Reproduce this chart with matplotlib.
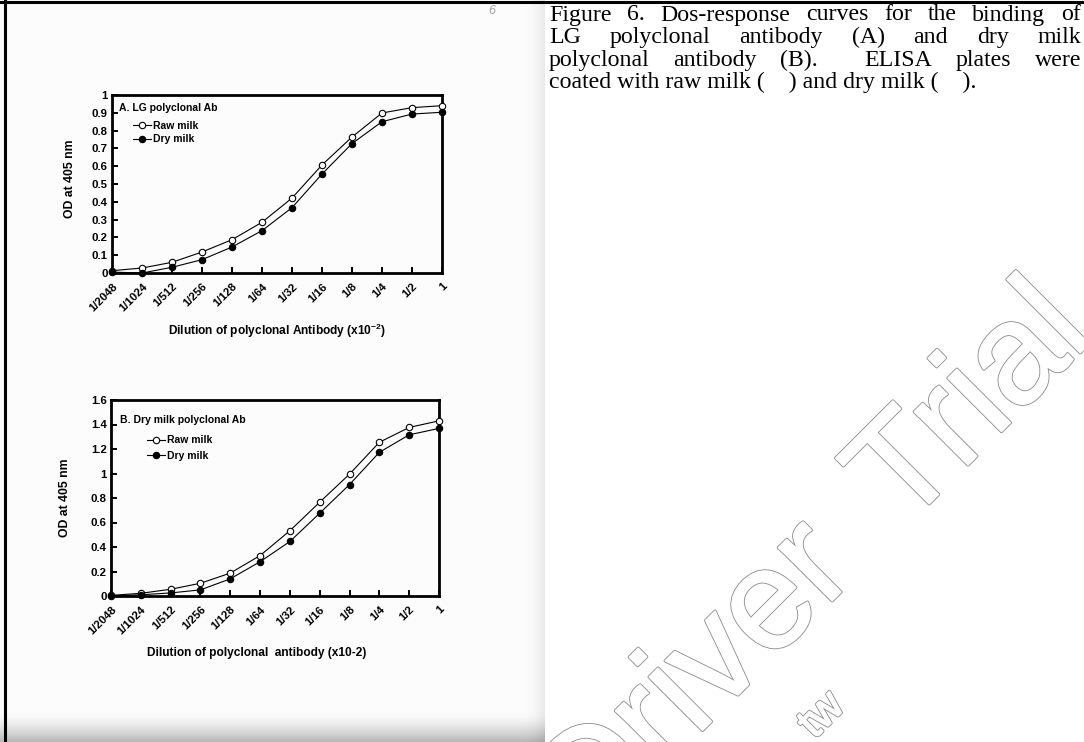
import re
import numpy as np
import matplotlib
matplotlib.use("Agg")
import matplotlib.pyplot as plt
import matplotlib.patheffects as pe
from matplotlib.lines import Line2D
from matplotlib.ticker import FuncFormatter, MultipleLocator

W, H = 1084, 742

# dilution series shared by both panels
dilutions = ["1/2048", "1/1024", "1/512", "1/256", "1/128", "1/64",
             "1/32", "1/16", "1/8", "1/4", "1/2", "1"]

# A. LG polyclonal Ab (OD at 405 nm)
lg_raw = [0.013, 0.028, 0.06, 0.118, 0.187, 0.285, 0.421, 0.607, 0.764, 0.899, 0.929, 0.94]
lg_dry = [0.005, 0.0, 0.032, 0.075, 0.146, 0.238, 0.367, 0.556, 0.727, 0.85, 0.893, 0.903]

# B. Dry milk polyclonal Ab (OD at 405 nm)
dm_raw = [0.005, 0.022, 0.055, 0.104, 0.187, 0.33, 0.533, 0.766, 0.995, 1.255, 1.376, 1.43]
dm_dry = [0.0, 0.01, 0.025, 0.05, 0.14, 0.28, 0.445, 0.676, 0.91, 1.173, 1.316, 1.368]

caption_lines = [
    "Figure 6. Dos-response curves for the binding of",
    "LG polyclonal antibody (A) and dry milk",
    "polyclonal antibody (B).  ELISA plates were",
    "coated with raw milk (    ) and dry milk (    ).",
]

SANS = "Liberation Sans"
SERIF = "Liberation Serif"
plt.rcParams["font.family"] = [SANS, "DejaVu Sans"]
plt.rcParams["mathtext.fontset"] = "custom"
plt.rcParams["mathtext.rm"] = "Liberation Sans:bold"
plt.rcParams["mathtext.it"] = "Liberation Sans:bold"
plt.rcParams["mathtext.bf"] = "Liberation Sans:bold"


def fx(x):
    return x / W


def fy(y):
    return 1 - y / H


def px_rect(x0, y0, x1, y1):
    return [x0 / W, 1 - y1 / H, (x1 - x0) / W, (y1 - y0) / H]


fig = plt.figure(figsize=(W / 100, H / 100), dpi=100)

# page background: scanned sheet on the left with its edge shadows
bg = np.ones((H, W))
bg[:, :545] = 0.985
xs = np.arange(W)
ys = np.arange(H)
edge = np.clip((xs - 522) / 23.0, 0, 1) * (xs < 545)
bg[:, :] -= 0.08 * edge[None, :] ** 2
bottom = np.clip((ys - 712) / 30.0, 0, 1)
bg[:, :545] -= 0.28 * (bottom[:, None] ** 1.5)
bg = np.clip(bg, 0, 1)
bax = fig.add_axes([0, 0, 1, 1], zorder=-10)
bax.imshow(bg, cmap="gray", vmin=0, vmax=1, aspect="auto", interpolation="bilinear")
bax.axis("off")

# border lines of the page table
fig.add_artist(Line2D([0, 1], [fy(1.5), fy(1.5)], color="black", lw=2.2))
fig.add_artist(Line2D([fx(4.5), fx(4.5)], [0, 1], color="black", lw=2.2))
fig.text(fx(492), fy(11), "6", color="#a5a5a5", fontsize=9, style="italic",
         ha="center", va="center")


def draw_panel(rect, raw, dry, ymax, ystep, title, title_xy, xlabel, xlab_xy,
               ylab_xy, leg_xy, leg_spacing):
    ax = fig.add_axes(rect)
    ax.patch.set_alpha(0)
    x = np.arange(len(dilutions))
    ax.plot(x, raw, "-o", color="black", lw=0.8, ms=4.6, mfc="white",
            mec="black", mew=0.8, label="Raw milk", clip_on=False, zorder=3)
    ax.plot(x, dry, "-o", color="black", lw=0.8, ms=4.6, mfc="black",
            mec="black", mew=0.8, label="Dry milk", clip_on=False, zorder=3)
    ax.set_xlim(0, len(dilutions) - 1)
    ax.set_ylim(0, ymax)
    ax.set_xticks(x)
    ax.set_xticklabels(dilutions, rotation=45, ha="right",
                       rotation_mode="anchor", fontweight="bold")
    ax.yaxis.set_major_locator(MultipleLocator(ystep))
    ax.yaxis.set_major_formatter(FuncFormatter(lambda v, p: f"{v:g}"))
    for lab in ax.get_yticklabels():
        lab.set_fontweight("bold")
    ax.tick_params(direction="in", length=4, width=1.4, labelsize=8.2,
                   colors="black")
    ax.tick_params(axis="x", pad=6)
    ax.tick_params(axis="y", pad=3)
    for s in ax.spines.values():
        s.set_linewidth(2)

    ax.set_ylabel("OD at 405 nm", fontsize=8.8, fontweight="bold")
    ax.yaxis.set_label_coords(*ylab_xy)
    ax.set_xlabel(xlabel, fontsize=8.6, fontweight="bold")
    ax.xaxis.set_label_coords(*xlab_xy)

    ax.text(title_xy[0], title_xy[1], title, transform=ax.transAxes,
            fontsize=7.5, fontweight="bold", ha="left", va="center")
    ax.legend(loc="upper left", bbox_to_anchor=leg_xy, frameon=False,
              prop={"weight": "bold", "size": 7.5}, handlelength=1.75,
              handletextpad=0.2, labelspacing=leg_spacing, borderpad=0,
              borderaxespad=0, numpoints=1)
    return ax


draw_panel(px_rect(112, 95, 442, 273), lg_raw, lg_dry, 1.0, 0.1,
           "A. LG polyclonal Ab", (0.021, 0.928),
           r"Dilution of polyclonal Antibody (x10$^{-2}$)", (0.5, -0.275),
           (-0.11, 0.528), (0.064, 0.855), 0.35)

draw_panel(px_rect(111, 400, 439, 596), dm_raw, dm_dry, 1.6, 0.2,
           "B. Dry milk polyclonal Ab", (0.027, 0.898),
           "Dilution of polyclonal  antibody (x10-2)", (0.445, -0.258),
           (-0.123, 0.5), (0.11, 0.82), 0.55)

# caption on the right, justified between two margins
renderer = fig.canvas.get_renderer()
cap_left, cap_right = 549, 1081
cap_base = [20.5, 43.0, 65.6, 88.2]
cap_size = 17.2
for i, line in enumerate(caption_lines):
    y = fy(cap_base[i])
    if i == len(caption_lines) - 1:
        fig.text(fx(cap_left), y, line, family=SERIF, fontsize=cap_size,
                 ha="left", va="baseline")
        continue
    tokens = [t for t in re.split(r"( +)", line) if t]
    words = [t for t in tokens if not t.startswith(" ")]
    n_space = sum(len(t) for t in tokens if t.startswith(" "))
    arts = [fig.text(0, y, w, family=SERIF, fontsize=cap_size, ha="left",
                     va="baseline") for w in words]
    widths = [a.get_window_extent(renderer).width for a in arts]
    sp = (cap_right - cap_left - sum(widths)) / n_space
    xpos = cap_left
    k = 0
    for t in tokens:
        if t.startswith(" "):
            xpos += sp * len(t)
        else:
            arts[k].set_x(fx(xpos))
            xpos += widths[k]
            k += 1

# outlined trial watermark across the right column
outline = [pe.Normal(), pe.Stroke(linewidth=2.3, foreground="#8a8a8a"),
           pe.Stroke(linewidth=1.1, foreground="white")]
fig.text(fx(903), fy(530), "Trial", family=SANS, fontsize=103, color="white",
         rotation=45, rotation_mode="anchor", ha="left", va="baseline",
         path_effects=outline)
fig.text(fx(859), fy(574), "Driver", family=SANS, fontsize=103, color="white",
         rotation=45, rotation_mode="anchor", ha="right", va="baseline",
         path_effects=outline)
fig.text(fx(846), fy(708), "tw", family=SANS, fontsize=32, color="white",
         rotation=45, rotation_mode="anchor", ha="right", va="baseline",
         path_effects=outline)

fig.savefig("out.png", dpi=100)
